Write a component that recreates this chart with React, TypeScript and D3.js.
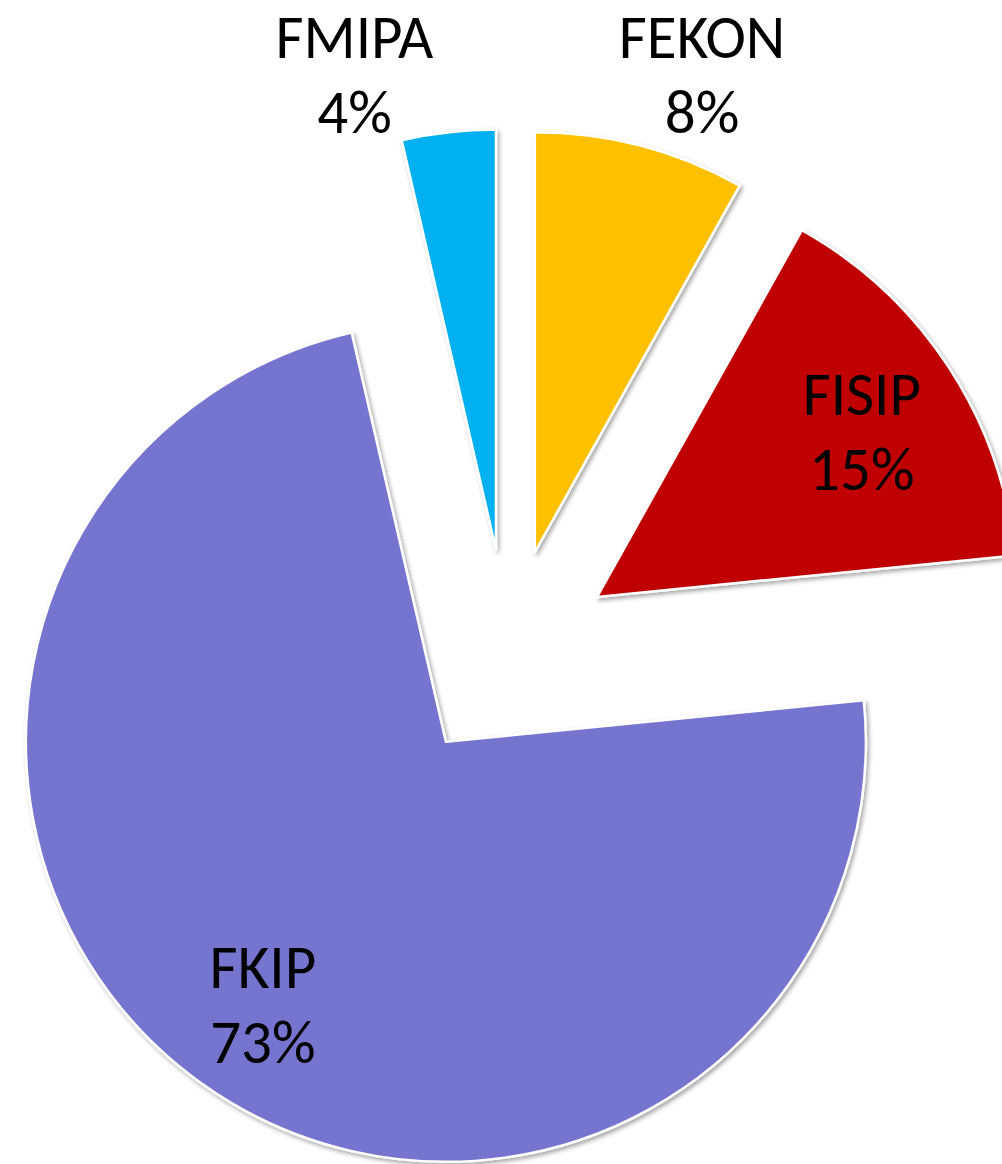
import React, { useRef, useEffect } from "react";
import * as d3 from "d3";

// Faculty counts (9/17/81/4 of 111 -> 8%, 15%, 73%, 4%)
const categories = ["FEKON", "FISIP", "FKIP", "FMIPA"];
const counts = [9, 17, 81, 4];
const percentLabels = ["8%", "15%", "73%", "4%"];
const COLORS = ["#FFC000", "#C00000", "#7574CF", "#00B0F0"];

const WIDTH = 1002;
const HEIGHT = 1164;
const CENTER = { x: 508, y: 655.3 };
const RADIUS = 420;
const EXPLODE = 106.5;
const FONT_SIZE = 61;
const LINE_GAP = 75;

// label placement relative to each slice apex: distance and angle nudge (deg)
const LABEL_DIST = [506, 312, 320, 495.6];
const LABEL_SHIFT = [4.7, 1.3, -0.8, -10.1];

const polar = (r: number, a: number) => [r * Math.sin(a), -r * Math.cos(a)];

export default function App() {
  const svgRef = useRef<SVGSVGElement | null>(null);

  useEffect(() => {
    const svg = d3.select(svgRef.current);
    svg.selectAll("*").remove();
    svg.attr("width", WIDTH).attr("height", HEIGHT);

    const filter = svg
      .append("defs")
      .append("filter")
      .attr("id", "shadow")
      .attr("x", "-10%")
      .attr("y", "-10%")
      .attr("width", "120%")
      .attr("height", "120%");
    filter
      .append("feDropShadow")
      .attr("dx", 2)
      .attr("dy", 2.5)
      .attr("stdDeviation", 2)
      .attr("flood-color", "#000")
      .attr("flood-opacity", 0.35);

    const pie = d3
      .pie<number>()
      .sort(null)
      .value((d) => d)
      .startAngle(0)
      .endAngle(2 * Math.PI);
    const arcs = pie(counts);

    const arc = d3
      .arc<d3.PieArcDatum<number>>()
      .innerRadius(0)
      .outerRadius(RADIUS);

    const g = svg
      .append("g")
      .attr("transform", `translate(${CENTER.x},${CENTER.y})`);

    // exploded slices
    const slices = g
      .selectAll(".slice")
      .data(arcs)
      .join("g")
      .attr("class", "slice")
      .attr("transform", (d) => {
        const mid = (d.startAngle + d.endAngle) / 2;
        const [x, y] = polar(EXPLODE, mid);
        return `translate(${x},${y})`;
      });

    slices
      .append("path")
      .attr("d", arc)
      .attr("fill", (d, i) => COLORS[i])
      .attr("stroke", "#fff")
      .attr("stroke-width", 2.5)
      .attr("stroke-linejoin", "round")
      .attr("filter", "url(#shadow)");

    // data labels
    const labels = slices
      .append("text")
      .attr("text-anchor", "middle")
      .attr("font-family", "Carlito, Calibri, Lato, sans-serif")
      .attr("font-size", FONT_SIZE)
      .attr("fill", "#000")
      .attr("transform", (d, i) => {
        const mid =
          (d.startAngle + d.endAngle) / 2 + (LABEL_SHIFT[i] * Math.PI) / 180;
        const [x, y] = polar(LABEL_DIST[i], mid);
        return `translate(${x},${y})`;
      });

    const capHalf = FONT_SIZE * 0.34;
    labels
      .append("tspan")
      .attr("x", 0)
      .attr("y", -LINE_GAP / 2 + capHalf)
      .text((d, i) => categories[i]);
    labels
      .append("tspan")
      .attr("x", 0)
      .attr("y", LINE_GAP / 2 + capHalf)
      .text((d, i) => percentLabels[i]);
  }, []);

  return (
    <div style={{ position: "absolute", left: 0, top: 0, background: "#fff" }}>
      <svg ref={svgRef} style={{ display: "block" }} />
    </div>
  );
}
